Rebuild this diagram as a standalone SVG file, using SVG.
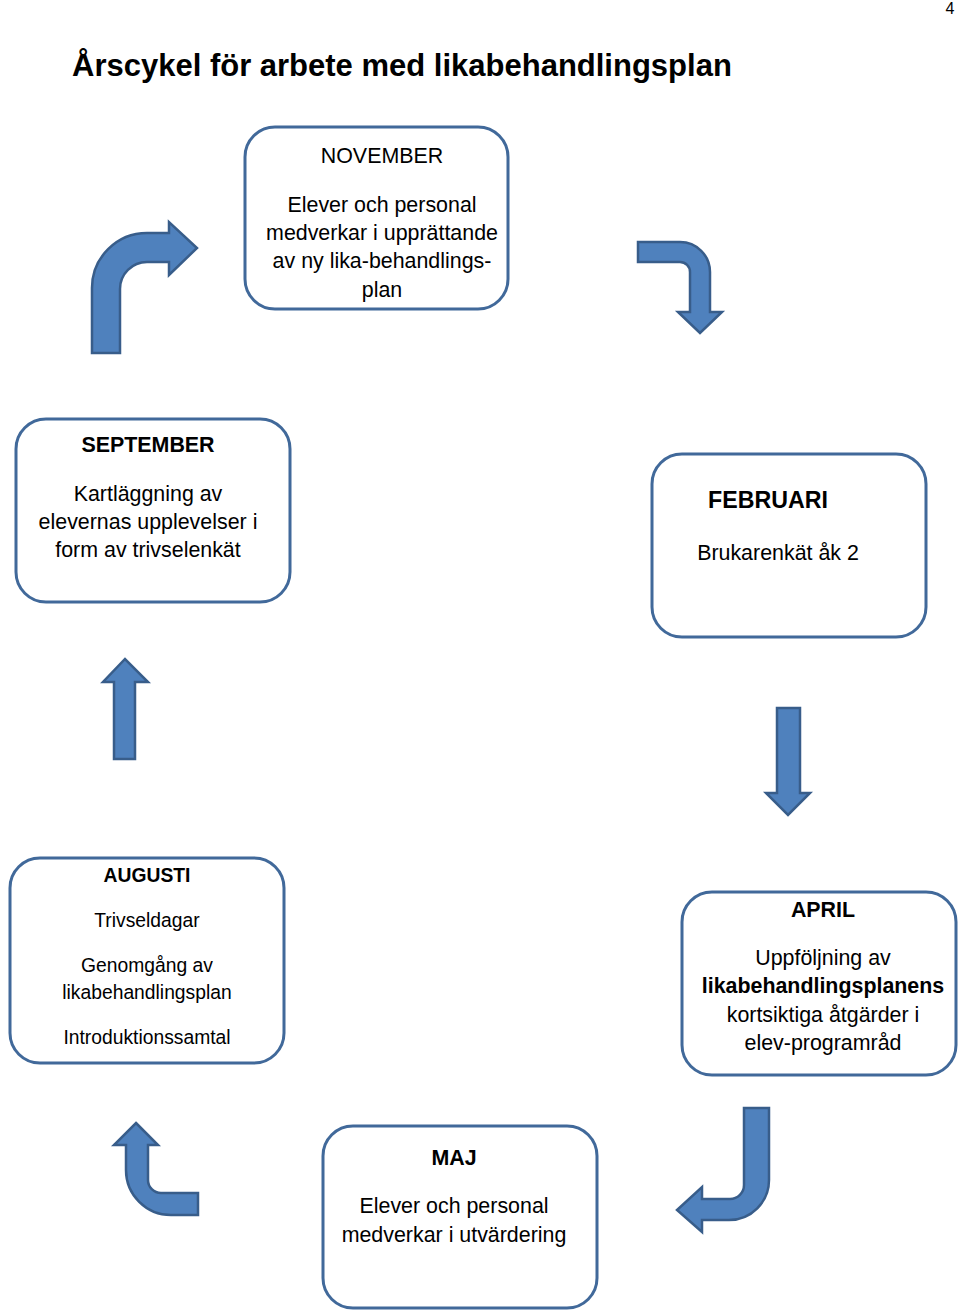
<svg xmlns="http://www.w3.org/2000/svg" width="960" height="1312" viewBox="0 0 960 1312">
<style>
.box{fill:#fff;stroke:#41699a;stroke-width:3}
.arr{fill:#4f81bd;stroke:#385d8a;stroke-width:2.5;stroke-linejoin:miter}
text{font-family:"Liberation Sans",Arial,sans-serif;fill:#000;text-anchor:middle}
.t{font-size:21.4px}
.s{font-size:19.3px}
.b{font-weight:bold}
</style>
<rect width="960" height="1312" fill="#fff"/>
<text x="950" y="14" style="font-size:16px">4</text>
<text x="72" y="76" class="b" style="font-size:31px;text-anchor:start">Årscykel för arbete med likabehandlingsplan</text>

<g id="november">
<rect class="box" x="245" y="127" width="263" height="182" rx="30"/>
<text class="t" x="382" y="163">NOVEMBER</text>
<text class="t" x="382" y="212">Elever och personal</text>
<text class="t" x="382" y="240">medverkar i upprättande</text>
<text class="t" x="382" y="268">av ny lika-behandlings-</text>
<text class="t" x="382" y="297">plan</text>
</g>
<g id="september">
<rect class="box" x="16" y="419" width="274" height="183" rx="30"/>
<text class="t b" x="148" y="452">SEPTEMBER</text>
<text class="t" x="148" y="501">Kartläggning av</text>
<text class="t" x="148" y="529">elevernas upplevelser i</text>
<text class="t" x="148" y="557">form av trivselenkät</text>
</g>
<g id="februari">
<rect class="box" x="652" y="454" width="274" height="183" rx="30"/>
<text class="b" x="768" y="508" style="font-size:23.2px">FEBRUARI</text>
<text class="t" x="778" y="560">Brukarenkät åk 2</text>
</g>
<g id="augusti">
<rect class="box" x="10" y="858" width="274" height="205" rx="30"/>
<text class="s b" x="147" y="882">AUGUSTI</text>
<text class="s" x="147" y="927">Trivseldagar</text>
<text class="s" x="147" y="972">Genomgång av</text>
<text class="s" x="147" y="999">likabehandlingsplan</text>
<text class="s" x="147" y="1044">Introduktionssamtal</text>
</g>
<g id="april">
<rect class="box" x="682" y="892" width="274" height="183" rx="30"/>
<text class="t b" x="823" y="917">APRIL</text>
<text class="t" x="823" y="965">Uppföljning av</text>
<text class="t b" x="823" y="993">likabehandlingsplanens</text>
<text class="t" x="823" y="1022">kortsiktiga åtgärder i</text>
<text class="t" x="823" y="1050">elev-programråd</text>
</g>
<g id="maj">
<rect class="box" x="323" y="1126" width="274" height="182" rx="30"/>
<text class="t b" x="454" y="1165">MAJ</text>
<text class="t" x="454" y="1213">Elever och personal</text>
<text class="t" x="454" y="1242">medverkar i utvärdering</text>
</g>

<g id="connectors">
<path class="arr" d="M92,353 V288 A55 55 0 0 1 147 233 H169 V222 L197,248 L169,275 V262 H147 A27 27 0 0 0 120 289 V353 Z"/>
<path class="arr" d="M638,242 H680 A30 30 0 0 1 710 272 V312 H722 L700,333 L678,312 H690 V272 A10 10 0 0 0 680 262 H638 Z"/>
<path class="arr" d="M114,759 V682 H103 L125,659 L148,682 H135 V759 Z"/>
<path class="arr" d="M777,708 H800 V793 H810 L788,815 L766,793 H777 Z"/>
<path class="arr" d="M136,1123 L158,1145 H148 V1180 A13 13 0 0 0 161 1193 H198 V1215 H171 A45 45 0 0 1 126 1170 V1145 H114 Z"/>
<path class="arr" d="M744,1108 H769 V1180 A40 40 0 0 1 729 1220 H702 V1232 L677,1210 L702,1187 V1199 H730 A14 14 0 0 0 744 1185 Z"/>
</g>
</svg>
